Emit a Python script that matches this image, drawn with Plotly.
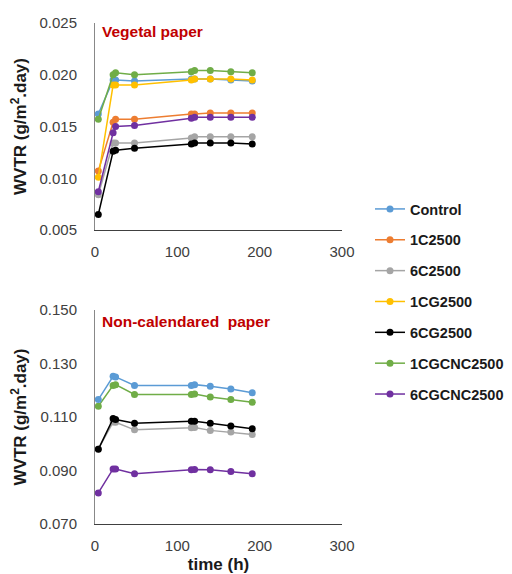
import plotly.graph_objects as go

# ---------------- data ----------------
time_h = [4, 22, 25, 48, 117, 121, 140, 165, 191]

series_names = ["Control", "1C2500", "6C2500", "1CG2500", "6CG2500", "1CGCNC2500", "6CGCNC2500"]
series_colors = ["#5B9BD5", "#ED7D31", "#A5A5A5", "#FFC000", "#000000", "#70AD47", "#7030A0"]

# Vegetal paper (top)
veg_control = [0.0162, 0.0195, 0.0195, 0.0194, 0.0196, 0.0196, 0.0196, 0.0195, 0.0194]
veg_1c2500 = [0.0107, 0.0154, 0.0157, 0.0157, 0.0162, 0.0162, 0.0163, 0.0163, 0.0163]
veg_6c2500 = [0.0084, 0.0134, 0.0134, 0.0134, 0.0139, 0.0140, 0.0140, 0.0140, 0.0140]
veg_1cg2500 = [0.0101, 0.0190, 0.0190, 0.0190, 0.0195, 0.0196, 0.0196, 0.0196, 0.0195]
veg_6cg2500 = [0.0065, 0.0126, 0.0127, 0.0129, 0.0133, 0.0134, 0.0134, 0.0134, 0.0133]
veg_1cgcnc2500 = [0.0157, 0.0200, 0.0202, 0.0200, 0.0203, 0.0204, 0.0204, 0.0203, 0.0202]
veg_6cgcnc2500 = [0.0087, 0.0144, 0.0150, 0.0151, 0.0158, 0.0159, 0.0159, 0.0159, 0.0159]

# Non-calendared paper (bottom)
nc_control = [0.1165, 0.1252, 0.1250, 0.1218, 0.1218, 0.1221, 0.1215, 0.1205, 0.1191]
nc_6c2500 = [0.0980, 0.1081, 0.1080, 0.1052, 0.1060, 0.1061, 0.1050, 0.1044, 0.1035]
nc_6cg2500 = [0.0979, 0.1094, 0.1091, 0.1077, 0.1084, 0.1084, 0.1077, 0.1066, 0.1056]
nc_1cgcnc2500 = [0.1140, 0.1218, 0.1221, 0.1184, 0.1184, 0.1186, 0.1175, 0.1165, 0.1155]
nc_6cgcnc2500 = [0.0816, 0.0906, 0.0906, 0.0888, 0.0903, 0.0904, 0.0903, 0.0896, 0.0888]

veg_values = [veg_control, veg_1c2500, veg_6c2500, veg_1cg2500, veg_6cg2500, veg_1cgcnc2500, veg_6cgcnc2500]
nc_values = {"Control": nc_control, "6C2500": nc_6c2500, "6CG2500": nc_6cg2500,
             "1CGCNC2500": nc_1cgcnc2500, "6CGCNC2500": nc_6cgcnc2500}

x_ticks = [0, 100, 200, 300]
veg_ticks = [0.005, 0.010, 0.015, 0.020, 0.025]
nc_ticks = [0.070, 0.090, 0.110, 0.130, 0.150]

# ---------------- figure ----------------
# The page body has an 8px margin, so the figure is sized to fill the rest of the window.
FONT = "Liberation Sans, Arial, sans-serif"
W, H = 504, 566
fig = go.Figure()

for name, color, vals in zip(series_names, series_colors, veg_values):
    fig.add_trace(go.Scatter(
        x=time_h, y=vals, mode="lines+markers", name="<b>" + name + "</b>", legendgroup=name,
        line=dict(color=color, width=1.5), marker=dict(color=color, size=7),
        xaxis="x", yaxis="y", showlegend=True))

bottom_order = ["6C2500", "6CG2500", "6CGCNC2500", "1CGCNC2500", "Control"]
for name in bottom_order:
    color = series_colors[series_names.index(name)]
    fig.add_trace(go.Scatter(
        x=time_h, y=nc_values[name], mode="lines+markers", name=name, legendgroup=name,
        line=dict(color=color, width=1.5), marker=dict(color=color, size=7),
        xaxis="x2", yaxis="y2", showlegend=False))

x0, x1 = 87 / W, 334 / W
top_dom = [1 - 222 / H, 1 - 15 / H]
bot_dom = [1 - 516 / H, 1 - 302 / H]

tick_font = dict(family=FONT, size=15, color="#404040")
title_font = dict(family=FONT, size=17, color="#1a1a1a")

common_x = dict(range=[0, 300], tickvals=x_ticks, showgrid=False, zeroline=False,
                showline=True, linecolor="#404040", linewidth=1, ticks="",
                tickfont=tick_font, ticklabelstandoff=8, domain=[x0, x1], automargin=False)
common_y = dict(showgrid=False, zeroline=False, showline=True, linecolor="#888888", linewidth=1,
                ticks="", tickfont=tick_font, tickformat=".3f", ticklabelstandoff=14,
                automargin=False)

fig.update_layout(
    width=W, height=H,
    margin=dict(l=0, r=0, t=0, b=0),
    paper_bgcolor="white", plot_bgcolor="white",
    font=dict(family=FONT),
    xaxis=dict(**common_x, anchor="y"),
    yaxis=dict(**common_y, range=[0.005, 0.025], tickvals=veg_ticks, domain=top_dom, anchor="x",
               title=dict(text="<b>WVTR (g/m<sup>2</sup>.day)</b>", font=title_font, standoff=11)),
    xaxis2=dict(**common_x, anchor="y2",
                title=dict(text="<b>time (h)</b>", font=title_font, standoff=8)),
    yaxis2=dict(**common_y, range=[0.070, 0.150], tickvals=nc_ticks, domain=bot_dom, anchor="x2",
                title=dict(text="<b>WVTR (g/m<sup>2</sup>.day)</b>", font=title_font, standoff=11)),
    legend=dict(x=362 / W, xanchor="left", y=1 - 185 / H, yanchor="top",
                font=dict(family=FONT, size=14.5, color="#1a1a1a"),
                tracegroupgap=9, bgcolor="rgba(0,0,0,0)", itemwidth=30),
    showlegend=True,
    annotations=[
        dict(text="<b>Vegetal paper</b>", xref="paper", yref="paper", x=92 / W, y=1 - 24 / H,
             xanchor="left", yanchor="middle", showarrow=False,
             font=dict(family=FONT, size=15.5, color="#C00000")),
        dict(text="<b>Non-calendared  paper</b>", xref="paper", yref="paper", x=92 / W, y=1 - 314 / H,
             xanchor="left", yanchor="middle", showarrow=False,
             font=dict(family=FONT, size=15.5, color="#C00000")),
    ],
)

fig.write_html("out.html")
